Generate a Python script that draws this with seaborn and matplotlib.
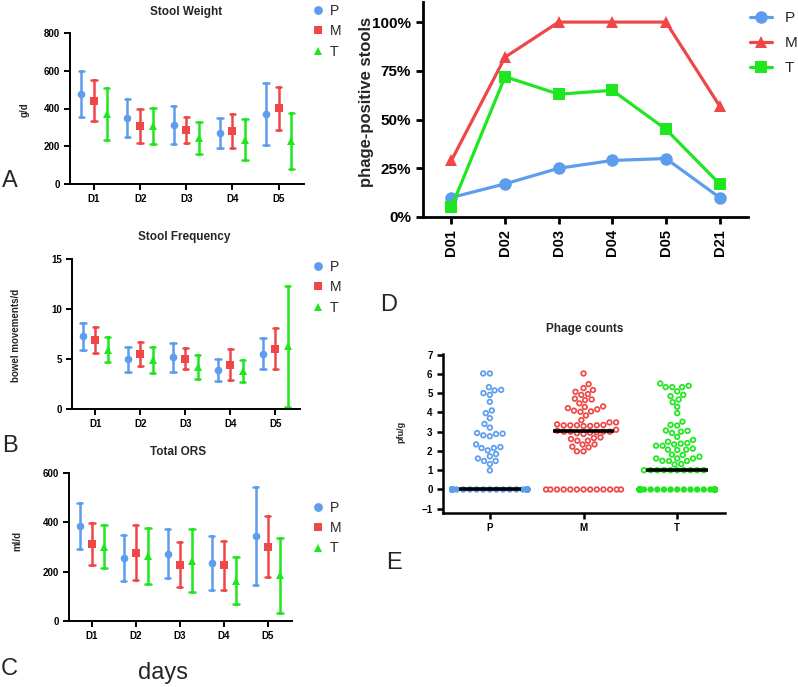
import numpy as np
import pandas as pd
import matplotlib
matplotlib.use("Agg")
import matplotlib.pyplot as plt
import seaborn as sns

# ---------------- data ----------------
days = ["D1", "D2", "D3", "D4", "D5"]
groups = ["P", "M", "T"]

weight_P_mean = [477, 348, 313, 270, 371]
weight_P_sd = [121, 101, 100, 81, 166]
weight_M_mean = [442, 307, 286, 281, 401]
weight_M_sd = [108, 92, 68, 88, 115]
weight_T_mean = [371, 307, 242, 235, 228]
weight_T_sd = [138, 96, 84, 107, 148]

freq_P_mean = [7.28, 4.98, 5.18, 3.89, 5.55]
freq_P_sd = [1.36, 1.23, 1.44, 1.10, 1.56]
freq_M_mean = [6.88, 5.48, 5.05, 4.45, 6.05]
freq_M_sd = [1.30, 1.18, 1.03, 1.55, 2.01]
freq_T_mean = [5.91, 4.88, 4.19, 3.82, 6.28]
freq_T_sd = [1.25, 1.30, 1.20, 1.08, 6.06]

ors_P_mean = [386, 256, 273, 235, 344]
ors_P_sd = [93, 93, 100, 110, 198]
ors_M_mean = [312, 277, 228, 226, 301]
ors_M_sd = [86, 111, 91, 100, 124]
ors_T_mean = [301, 264, 244, 164, 186]
ors_T_sd = [87, 115, 127, 95, 152]

phage_days = ["D01", "D02", "D03", "D04", "D05", "D21"]
pos_P = [10, 17, 25, 29, 30, 10]
pos_M = [29, 82, 100, 100, 100, 57]
pos_T = [5, 72, 63, 65, 45, 17]

counts_P = [0.0] * 50 + [6.02, 6.02, 5.31, 5.14, 4.91, 5.0, 5.17, 4.55, 4.1, 3.96,
                         3.70, 3.40, 3.21, 2.93, 2.88, 2.76, 2.81, 2.9, 2.2, 1.84,
                         2.15, 2.03, 2.15, 2.34, 1.61, 1.32, 1.48, 1.48, 1.72, 0.99]
counts_M = [0.0] * 13 + [6.02, 5.47, 5.26, 5.16, 5.07, 4.95, 4.91, 4.71, 4.67, 4.64,
                         4.47, 4.31, 4.22, 4.28, 4.16, 4.09, 4.05, 4.03, 3.84, 3.6,
                         3.48, 3.33, 3.33, 3.30, 3.33, 3.29, 3.33, 3.35, 3.38, 3.48,
                         2.88, 2.92, 2.95, 2.97, 3.0, 3.0, 3.0, 3.0, 3.05, 3.1,
                         2.7, 2.62, 2.53, 2.53, 2.67, 2.34, 2.33, 2.22, 2.19, 1.98, 1.98]
counts_T = [0.0] * 45 + [1.0] * 10 + [5.31, 5.31, 5.50, 5.31, 5.38, 5.09, 4.91, 4.84,
                                      4.67, 4.53, 4.29, 3.96, 3.52, 3.35, 3.32, 3.06,
                                      3.0, 2.93, 3.04, 2.73, 2.57, 2.41, 2.48, 2.38,
                                      2.27, 2.12, 2.07, 2.05, 2.07, 2.27, 2.34, 1.81,
                                      1.70, 1.61, 1.48, 1.48, 1.49, 1.61, 1.61, 1.79,
                                      1.32, 1.30]

# ---------------- style ----------------
palette = {"P": "#5c9ded", "M": "#ef4747", "T": "#1fe61f"}
markers_pt = {"P": "o", "M": "s", "T": "^"}

sns.set_theme(style="ticks")
plt.rcParams["font.family"] = ["Liberation Sans", "DejaVu Sans"]

W, H = 798, 687
fig = plt.figure(figsize=(W / 100, H / 100), dpi=100)


def rect(x0, y0, x1, y1):
    return [x0 / W, 1 - y1 / H, (x1 - x0) / W, (y1 - y0) / H]


def ftext(x, y, s, **kw):
    fig.text(x / W, 1 - y / H, s, ha=kw.pop("ha", "center"), va=kw.pop("va", "center"), **kw)


def long_df(pm, ps, mm, ms, tm, ts):
    rows = []
    for g, means, sds in (("P", pm, ps), ("M", mm, ms), ("T", tm, ts)):
        for d, m, s in zip(days, means, sds):
            rows.append({"day": d, "grp": g, "val": m - s})
            rows.append({"day": d, "grp": g, "val": m + s})
    return pd.DataFrame(rows)


def dot_panel(box, df, ylim, yticks, title, title_xy, ylabel, ylabel_xy, legend_xy):
    ax = fig.add_axes(rect(*box))
    sns.pointplot(data=df, x="day", y="val", hue="grp", hue_order=groups,
                  palette=palette, markers=[markers_pt[g] for g in groups],
                  linestyle="none", dodge=0.55, errorbar=("pi", 100),
                  capsize=0.12, err_kws={"linewidth": 1.8},
                  markersize=5.5, markeredgewidth=0, ax=ax)
    ax.set_ylim(*ylim)
    ax.set_yticks(yticks)
    ax.set_xlim(-0.52, 4.55)
    ax.set_xlabel("")
    ax.set_ylabel("")
    sns.despine(ax=ax)
    for sp in ("left", "bottom"):
        ax.spines[sp].set_linewidth(1.4)
        ax.spines[sp].set_color("black")
    ax.tick_params(axis="both", width=1.4, length=4, labelsize=7, colors="black", pad=3)
    for lab in ax.get_xticklabels() + ax.get_yticklabels():
        lab.set_fontweight("bold")
    handles, labels = ax.get_legend_handles_labels()
    ax.legend(handles, labels, loc="upper left",
              bbox_to_anchor=(legend_xy[0] / W, 1 - legend_xy[1] / H),
              bbox_transform=fig.transFigure, frameon=False, fontsize=10,
              handlelength=0.8, handletextpad=0.5, labelspacing=0.45,
              borderpad=0, borderaxespad=0, markerscale=1.15)
    ftext(*title_xy, title, fontsize=8.5, fontweight="bold")
    ftext(*ylabel_xy, ylabel, fontsize=7, fontweight="bold", rotation=90)
    return ax


dot_panel((70, 33, 304, 184),
          long_df(weight_P_mean, weight_P_sd, weight_M_mean, weight_M_sd, weight_T_mean, weight_T_sd),
          (0, 800), [0, 200, 400, 600, 800], "Stool Weight", (186, 12),
          "g/d", (25, 110), (312, 4))
dot_panel((72, 259, 300, 409),
          long_df(freq_P_mean, freq_P_sd, freq_M_mean, freq_M_sd, freq_T_mean, freq_T_sd),
          (0, 15), [0, 5, 10, 15], "Stool Frequency", (184, 237),
          "bowel movements/d", (16, 335), (312, 260))
dot_panel((69, 473, 292, 621),
          long_df(ors_P_mean, ors_P_sd, ors_M_mean, ors_M_sd, ors_T_mean, ors_T_sd),
          (0, 600), [0, 200, 400, 600], "Total ORS", (178, 452),
          "ml/d", (17, 541), (312, 501))

# ---------------- panel D ----------------
axD = fig.add_axes(rect(423, 2, 748, 217))
dfD = pd.DataFrame({
    "day": phage_days * 3,
    "grp": ["P"] * 6 + ["M"] * 6 + ["T"] * 6,
    "pct": pos_P + pos_M + pos_T,
})
sns.lineplot(data=dfD, x="day", y="pct", hue="grp", style="grp", hue_order=groups,
             style_order=groups, palette=palette,
             markers={"P": "o", "M": "^", "T": "s"}, dashes=False,
             linewidth=2.3, markersize=9, markeredgewidth=0, ax=axD)
axD.set_ylim(0, 110.3)
axD.set_yticks([0, 25, 50, 75, 100])
axD.set_yticklabels(["0%", "25%", "50%", "75%", "100%"])
axD.set_xlim(-0.53, 5.53)
axD.set_xlabel("")
axD.set_ylabel("")
sns.despine(ax=axD)
for sp in ("left", "bottom"):
    axD.spines[sp].set_linewidth(2)
    axD.spines[sp].set_color("black")
axD.tick_params(axis="both", width=2, length=5, labelsize=11, colors="black")
axD.tick_params(axis="x", rotation=90, labelsize=10.5)
for lab in axD.get_xticklabels() + axD.get_yticklabels():
    lab.set_fontweight("bold")
h, l = axD.get_legend_handles_labels()
axD.legend(h, l, loc="upper left", bbox_to_anchor=(750 / W, 1 - 11 / H),
           bbox_transform=fig.transFigure, frameon=False, fontsize=11,
           handlelength=1.45, handletextpad=0.8, labelspacing=0.72,
           borderpad=0, borderaxespad=0)
ftext(367, 102, "phage-positive stools", fontsize=12, fontweight="bold", rotation=90)

# ---------------- panel E ----------------
axE = fig.add_axes(rect(443, 354, 725, 513))
dfE = pd.DataFrame({
    "grp": ["P"] * len(counts_P) + ["M"] * len(counts_M) + ["T"] * len(counts_T),
    "val": counts_P + counts_M + counts_T,
})
sns.swarmplot(data=dfE, x="grp", y="val", hue="grp", order=groups, hue_order=groups,
              palette=palette, size=3.3, legend=False, warn_thresh=1.0, ax=axE)
for coll in axE.collections:
    fc = np.array(coll.get_facecolors())
    offs = np.asarray(coll.get_offsets())
    if len(fc) == 1:
        fc = np.repeat(fc, len(offs), axis=0)
    faces = np.tile(np.array([[1.0, 1.0, 1.0, 1.0]]), (len(offs), 1))
    zero_row = offs[:, 1] == 0
    if zero_row.sum() > 20:          # dense rows overlap into a solid band
        faces[zero_row] = fc[zero_row]
    coll.set_edgecolors(fc)
    coll.set_facecolors(faces)
    coll.set_linewidths(1.25)
n_lines = len(axE.lines)
sns.boxplot(data=dfE, x="grp", y="val", order=groups, showbox=False, showcaps=False,
            showfliers=False, whis=0, whiskerprops={"visible": False},
            medianprops={"color": "black", "linewidth": 2.6}, width=0.66, ax=axE)
for ln in axE.lines[n_lines:]:
    ln.set_zorder(10)
axE.set_ylim(-1.22, 7.03)
axE.set_yticks(range(-1, 8))
axE.set_xlim(-0.5, 2.51)
axE.set_xlabel("")
axE.set_ylabel("")
sns.despine(ax=axE)
for sp in ("left", "bottom"):
    axE.spines[sp].set_linewidth(1.8)
    axE.spines[sp].set_color("black")
axE.tick_params(axis="both", width=1.8, length=4, labelsize=7, colors="black")
for lab in axE.get_xticklabels() + axE.get_yticklabels():
    lab.set_fontweight("bold")
ftext(585, 329, "Phage counts", fontsize=8.5, fontweight="bold")
ftext(401, 432, "pfu/g", fontsize=6.5, fontweight="bold", rotation=90)

# ---------------- panel letters ----------------
for letter, (x, y) in {"A": (10, 181), "B": (10, 446), "C": (9, 669),
                       "D": (389, 305), "E": (394, 563)}.items():
    ftext(x, y, letter, fontsize=17)
ftext(163, 673, "days", fontsize=17)

fig.savefig("out.png", dpi=100)
